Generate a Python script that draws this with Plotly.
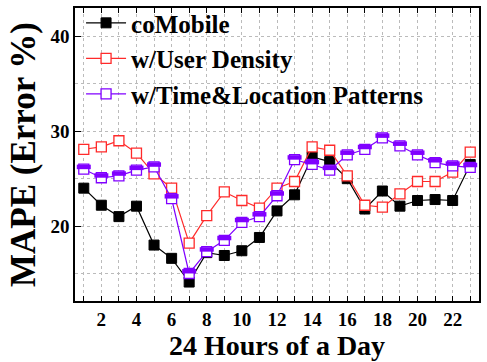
import plotly.graph_objects as go

hours = list(range(1, 24))
comobile = [24.0, 22.2, 21.0, 22.1, 18.0, 16.6, 14.1, 17.2, 16.9, 17.4, 18.8, 21.6,
            23.3, 27.3, 26.8, 25.0, 21.8, 23.7, 22.1, 22.7, 22.8, 22.7, 26.5]
user_density = [28.1, 28.35, 29.0, 27.7, 25.5, 24.0, 18.2, 21.1, 23.6, 22.7, 21.9, 24.0,
                24.7, 28.35, 28.0, 25.3, 22.2, 22.0, 23.4, 24.7, 24.7, 25.7, 27.8]
time_loc = [26.0, 25.1, 25.3, 25.9, 26.25, 22.9, 15.0, 17.3, 18.5, 20.4, 21.0, 23.2,
            27.0, 26.5, 25.9, 27.5, 28.1, 29.3, 28.45, 27.5, 26.7, 26.35, 26.2]
x_tick_labels = [2, 4, 6, 8, 10, 12, 14, 16, 18, 20, 22]
y_tick_labels = [20, 30, 40]

FONT = "Times New Roman, Liberation Serif, Tinos, serif"
PURPLE = "#8000ff"
RED = "#ff2a2a"
MS = 10

fig = go.Figure()
fig.add_trace(go.Scatter(x=hours, y=comobile, mode="lines+markers", name="coMobile",
                         line=dict(color="black", width=1.2),
                         marker=dict(symbol="square", size=MS, color="black",
                                     line=dict(color="black", width=1))))
fig.add_trace(go.Scatter(x=hours, y=user_density, mode="lines+markers", name="w/User Density",
                         line=dict(color=RED, width=1.2),
                         marker=dict(symbol="square", size=MS, color="white",
                                     line=dict(color=RED, width=1.3))))
fig.add_trace(go.Scatter(x=hours, y=time_loc, mode="lines+markers",
                         name="w/Time&Location Patterns",
                         line=dict(color=PURPLE, width=1.2),
                         marker=dict(symbol="square", size=MS, color="white",
                                     line=dict(color=PURPLE, width=1.3))))
# upper half fill of the purple markers
half_offset = 0.24
fig.add_trace(go.Scatter(x=hours, y=[v + half_offset for v in time_loc], mode="markers",
                         showlegend=False, hoverinfo="skip",
                         marker=dict(symbol="line-ew", size=MS, color=PURPLE,
                                     line=dict(color=PURPLE, width=4.5))))

fig.update_layout(
    width=487, height=362,
    margin=dict(l=75, r=8, t=8, b=61, autoexpand=False),
    paper_bgcolor="white", plot_bgcolor="white",
    font=dict(family=FONT, color="black", size=19, weight="bold"),
    showlegend=True,
    legend=dict(x=0.015, y=1.027, xanchor="left", yanchor="top", bgcolor="rgba(0,0,0,0)",
                font=dict(family=FONT, size=25, weight="bold", color="black"),
                itemwidth=40, tracegroupgap=0),
    xaxis=dict(range=[0.5, 23.5], tickvals=x_tick_labels, ticktext=[str(v) for v in x_tick_labels],
               ticks="inside", ticklen=5, tickwidth=1, tickcolor="black",
               showline=True, linecolor="black", linewidth=1.5, mirror="allticks",
               showgrid=True, gridcolor="#bbbbbb", griddash="dot", gridwidth=1,
               zeroline=False,
               minor=dict(dtick=1, tick0=0, ticks="inside", ticklen=5, tickcolor="black",
                          showgrid=True, gridcolor="#bbbbbb", griddash="dot"),
               title=dict(text="24 Hours of a Day", font=dict(size=28, family=FONT, weight="bold"),
                          standoff=0),
               tickfont=dict(size=19, family=FONT, weight="bold")),
    yaxis=dict(range=[12.1, 43.0], tickvals=y_tick_labels,
               ticks="inside", ticklen=6, tickwidth=1, tickcolor="black",
               showline=True, linecolor="black", linewidth=1.5, mirror=True,
               showgrid=True, gridcolor="#bbbbbb", griddash="dot", gridwidth=1,
               zeroline=False,
               minor=dict(dtick=5, tick0=0, ticks="", showgrid=True,
                          gridcolor="#bbbbbb", griddash="dot"),
               title=dict(text="MAPE (Error %)", font=dict(size=35, family=FONT, weight="bold"),
                          standoff=4),
               tickfont=dict(size=19, family=FONT, weight="bold")),
    yaxis2=dict(range=[12.1, 43.0], overlaying="y", side="right", showgrid=False,
                tickvals=[14.0, 15.9, 17.9, 19.9, 21.7, 23.6, 25.6, 27.4, 29.4, 31.4,
                          33.4, 35.3, 37.3, 39.3, 41.3],
                ticks="inside", ticklen=5, tickcolor="black", showticklabels=False,
                zeroline=False, showline=False),
)

fig.write_html("out.html")
